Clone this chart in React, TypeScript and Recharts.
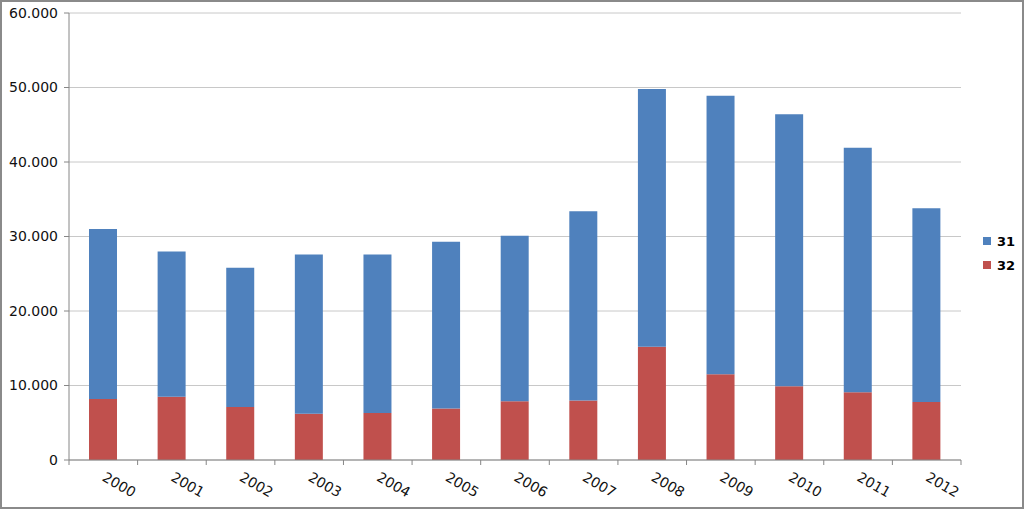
import { Bar, BarChart, CartesianGrid, XAxis, YAxis } from "recharts";

const years = ["2000", "2001", "2002", "2003", "2004", "2005", "2006", "2007", "2008", "2009", "2010", "2011", "2012"];
const series32 = [8200, 8500, 7100, 6200, 6300, 6900, 7900, 8000, 15200, 11500, 9900, 9100, 7800];
const series31 = [22800, 19500, 18700, 21400, 21300, 22400, 22200, 25400, 34600, 37400, 36500, 32800, 26000];
const yTicks = [0, 10000, 20000, 30000, 40000, 50000, 60000];

const chartData = years.map((year, i) => ({
  year,
  s32: series32[i],
  s31: series31[i],
}));

const fmt = (v: number) => String(v).replace(/\B(?=(\d{3})+(?!\d))/g, ".");

const BLUE = "#4F81BD";
const RED = "#C0504D";
const AXIS = "#868686";

function YearTick(props: any) {
  const { x, y, payload, index, visibleTicksCount } = props;
  const off = payload.offset ?? 0;
  const last = index === visibleTicksCount - 1;
  return (
    <g>
      <line x1={x - off} x2={x - off} y1={y} y2={y + 5} stroke={AXIS} />
      {last && <line x1={x + off} x2={x + off} y1={y} y2={y + 5} stroke={AXIS} />}
      <text
        x={x - 2}
        y={y + 20}
        transform={`rotate(30 ${x - 2} ${y + 20})`}
        textAnchor="start"
        fontSize={14}
        fontFamily="DejaVu Sans"
        fill="#111"
      >
        {payload.value}
      </text>
    </g>
  );
}

const legendItems = [
  { label: "31", color: BLUE },
  { label: "32", color: RED },
];

export default function App() {
  return (
    <div
      style={{
        position: "absolute",
        left: 0,
        top: 0,
        width: 1024,
        height: 509,
        border: "2px solid #8a8a8a",
        boxSizing: "border-box",
        background: "#fff",
        overflow: "hidden",
      }}
    >
      <BarChart
        width={1020}
        height={505}
        data={chartData}
        margin={{ top: 11, right: 61, bottom: 7, left: 0 }}
        barSize={28}
      >
        <CartesianGrid vertical={false} stroke="#c8c8c8" />
        <XAxis
          dataKey="year"
          height={40}
          stroke={AXIS}
          tickLine={false}
          tickSize={0}
          tickMargin={0}
          interval={0}
          tick={<YearTick />}
        />
        <YAxis
          width={67}
          domain={[0, 60000]}
          ticks={yTicks}
          tickFormatter={fmt}
          stroke={AXIS}
          tickSize={5}
          tickMargin={6}
          tick={{ fill: "#111", fontSize: 14, fontFamily: "DejaVu Sans" }}
        />
        <Bar dataKey="s32" name="32" stackId="a" fill={RED} isAnimationActive={false} />
        <Bar dataKey="s31" name="31" stackId="a" fill={BLUE} isAnimationActive={false} />
      </BarChart>
      <div
        style={{
          position: "absolute",
          left: 981,
          top: 227,
          fontFamily: "DejaVu Sans",
          fontSize: 13,
          fontWeight: "bold",
        }}
      >
        {legendItems.map((it) => (
          <div key={it.label} style={{ display: "flex", alignItems: "center", height: 24 }}>
            <span style={{ width: 8, height: 8, background: it.color, marginRight: 6 }} />
            <span>{it.label}</span>
          </div>
        ))}
      </div>
    </div>
  );
}
